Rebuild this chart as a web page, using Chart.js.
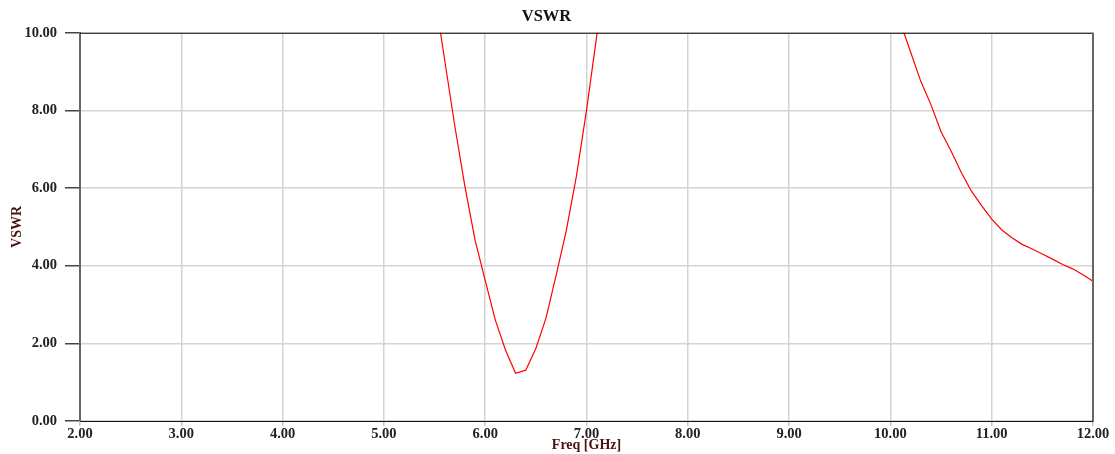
<!DOCTYPE html>
<html>
<head>
<meta charset="utf-8">
<script src="https://cdn.jsdelivr.net/npm/chart.js@4/dist/chart.umd.min.js"></script>
<style>
  html, body { margin: 0; padding: 0; background: #fff; }
  #wrap { width: 1115px; height: 454px; }
</style>
</head>
<body>
<div id="wrap"><canvas id="vswr"></canvas></div>
<script>
// frequency in GHz, sampled every 0.1 GHz (values above 10 run off the plot)
var freqBand1 = [5.5, 5.6, 5.7, 5.8, 5.9, 6.0, 6.1, 6.2, 6.3, 6.4, 6.5, 6.6, 6.7, 6.8, 6.9, 7.0, 7.1, 7.2];
var vswrBand1 = [11.0, 9.3, 7.6, 6.04, 4.66, 3.62, 2.6, 1.83, 1.23, 1.31, 1.87, 2.65, 3.75, 4.9, 6.3, 8.0, 9.9, 12.0];

var freqBand2 = [10.0, 10.1, 10.2, 10.3, 10.4, 10.5, 10.6, 10.7, 10.8, 10.9, 11.0, 11.1, 11.2, 11.3, 11.4, 11.5, 11.6, 11.7, 11.8, 11.9, 12.0];
var vswrBand2 = [11.3, 10.25, 9.5, 8.75, 8.15, 7.45, 6.95, 6.4, 5.92, 5.55, 5.2, 4.92, 4.72, 4.55, 4.43, 4.3, 4.17, 4.03, 3.92, 3.77, 3.6];

var xTicks = [2, 3, 4, 5, 6, 7, 8, 9, 10, 11, 12];
var yTicks = [0, 2, 4, 6, 8, 10];

var points = [];
freqBand1.forEach(function (f, i) { points.push({ x: f, y: vswrBand1[i] }); });
freqBand2.forEach(function (f, i) { points.push({ x: f, y: vswrBand2[i] }); });

var serif = "'Liberation Serif', 'DejaVu Serif', serif";

// top and right frame lines of the plot box
var frame = {
   id: "frame",
   afterDraw: function (chart) {
      var a = chart.chartArea, ctx = chart.ctx;
      ctx.save();
      ctx.strokeStyle = "#111";
      ctx.lineWidth = 1;
      ctx.beginPath();
      ctx.moveTo(a.left, a.top + 0.5);
      ctx.lineTo(a.right, a.top + 0.5);
      ctx.stroke();
      ctx.strokeStyle = "#666";
      ctx.lineWidth = 2;
      ctx.beginPath();
      ctx.moveTo(a.right, a.top);
      ctx.lineTo(a.right, a.bottom);
      ctx.stroke();
      ctx.restore();
   }
};

new Chart("vswr", {
   type: "line",
   data: {
      datasets: [{
         data: points,
         borderColor: "#ff0000",
         borderWidth: 1.2,
         pointRadius: 0,
         tension: 0,
         fill: false
      }]
   },
   options: {
      responsive: true,
      maintainAspectRatio: false,
      animation: false,
      layout: { padding: { left: 0, right: 22, top: 0, bottom: 0 } },
      plugins: {
         legend: { display: false },
         tooltip: { enabled: false },
         title: {
            display: true,
            text: "VSWR",
            color: "#111",
            font: { family: serif, size: 16.5, weight: "bold" },
            padding: { top: 7, bottom: 6 }
         }
      },
      scales: {
         x: {
            type: "linear",
            min: 2,
            max: 12,
            afterBuildTicks: function (s) { s.ticks = xTicks.map(function (v) { return { value: v }; }); },
            afterFit: function (s) { s.height = 33; },
            ticks: {
               color: "#222",
               padding: 0,
               maxRotation: 0,
               font: { family: serif, size: 14.5, weight: "bold" },
               callback: function (v) { return v.toFixed(2); }
            },
            grid: { color: "#d4d4d4", lineWidth: 1.5, tickLength: 5, tickColor: "#c8c8c8" },
            border: { color: "#111", width: 1 },
            title: {
               display: true,
               text: "Freq [GHz]",
               color: "#4a1212",
               font: { family: serif, size: 14, weight: "bold" },
               padding: { top: 0, bottom: 0 }
            }
         },
         y: {
            min: 0,
            max: 10,
            afterBuildTicks: function (s) { s.ticks = yTicks.map(function (v) { return { value: v }; }); },
            afterFit: function (s) { s.width = 80; },
            ticks: {
               color: "#222",
               padding: 8,
               font: { family: serif, size: 14.5, weight: "bold" },
               callback: function (v) { return v.toFixed(2); }
            },
            grid: { color: "#d4d4d4", lineWidth: 1.5, tickLength: 15, tickColor: "#444" },
            border: { color: "#666", width: 2 },
            title: {
               display: true,
               text: "VSWR",
               color: "#4a1212",
               font: { family: serif, size: 14, weight: "bold" },
               padding: { top: 9, bottom: 0 }
            }
         }
      }
   },
   plugins: [frame]
});
</script>
</body>
</html>
